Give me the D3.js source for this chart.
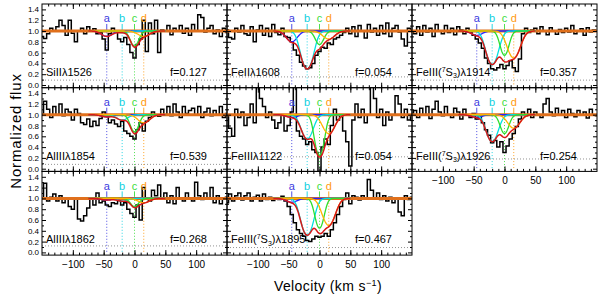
<!DOCTYPE html>
<html>
<head>
<meta charset="utf-8">
<script src="https://cdn.jsdelivr.net/npm/d3@7"></script>
<style>
body { margin: 0; background: #fff; }
svg { display: block; font-family: "Liberation Sans", Arial, sans-serif; }
</style>
</head>
<body>
<svg id="chart" width="600" height="298"></svg>
<script>

// velocity grid of the spectra (km/s)
const velocity = [-150,-145,-140,-135,-130,-125,-120,-115,-110,-105,-100,-95,-90,-85,-80,-75,-70,-65,-60,-55,
  -50,-45,-40,-35,-30,-25,-20,-15,-10,-5,0,5,10,15,20,25,30,35,40,45,50,55,60,65,70,75,80,85,90,95,
  100,105,110,115,120,125,130,135,140,145,150];

// normalized flux, one array per transition
const siII1526 = [0.9,0.86,0.95,1.05,1.0,1.08,1.2,1.1,0.92,1.2, 0.96,0.8,1.0,1.05,0.95,1.08,1.0,1.04,0.95,0.97,
  0.85,0.65,0.95,1.05,0.98,0.85,0.8,0.88,0.75,0.6, 0.5,0.75,0.85,1.2,0.62,1.15,0.95,1.2,0.6,1.02,
  1.0,1.1,0.93,1.05,1.0,1.1,0.96,1.05,0.92,1.12, 1.0,1.3,1.25,0.98,1.05,1.1,0.95,1.02,0.9,1.05, 0.97];
const feII1608 = [1.02,0.88,0.85,1.05,0.98,1.1,0.95,0.92,1.08,0.8, 1.02,1.1,0.92,1.05,0.9,1.12,0.97,0.93,1.05,0.9,
  0.88,0.8,0.65,0.55,0.42,0.35,0.3,0.32,0.4,0.55, 0.62,0.7,0.68,0.78,0.75,0.85,0.88,0.92,0.97,1.05,
  0.95,1.08,0.9,1.1,1.0,0.87,1.12,0.98,1.05,0.92, 1.1,0.95,1.15,0.9,1.05,1.1,0.98,0.85,0.72,1.05, 1.0];
const feIIIs1914 = [1.0,0.95,1.08,0.92,1.1,0.98,1.05,0.9,1.12,1.0, 0.95,1.1,0.97,1.05,0.93,1.08,1.02,0.95,1.05,0.98,
  0.92,0.85,0.78,0.68,0.5,0.4,0.3,0.28,0.32,0.38, 0.3,0.36,0.45,0.32,0.25,0.48,0.95,1.05,0.97,1.02,
  1.05,0.95,1.08,1.0,0.93,1.06,1.0,0.94,1.03,0.97, 1.05,0.98,1.1,0.95,1.0,1.04,0.92,1.06,0.98,1.02, 1.0];
const alIII1854 = [1.0,1.25,1.1,0.95,1.15,1.0,1.2,0.98,1.1,1.05, 0.9,1.1,1.02,0.85,0.82,0.92,0.78,0.88,0.8,0.93,
  1.05,0.98,0.85,0.9,0.83,0.78,0.88,0.7,0.65,0.6, 0.55,0.72,0.85,0.7,0.88,0.95,1.05,1.0,0.97,1.1,
  1.0,1.15,0.98,1.2,1.05,0.95,1.15,1.02,1.08,1.12, 1.0,1.15,0.95,1.05,1.12,0.98,1.08,1.0,1.15,0.95, 1.02];
const feIII1122 = [1.0,0.75,0.6,1.1,0.95,1.05,0.8,0.95,1.2,0.85, 1.6,1.3,1.15,0.95,1.05,0.9,0.75,0.85,1.0,0.7,
  0.8,1.05,1.6,0.7,0.6,0.55,0.45,0.5,0.35,0.3, -0.05,0.4,0.55,0.45,0.8,1.1,0.9,1.0,0.7,0.5,
  0.05,0.9,1.2,0.95,1.1,0.85,1.0,1.6,1.3,0.95, 1.1,0.8,1.05,0.9,1.0,1.35,1.2,0.95,1.1,0.9, 1.0];
const feIIIs1926 = [1.02,1.08,0.95,1.12,1.0,1.15,0.93,1.1,1.25,1.05, 0.98,1.15,1.0,0.95,1.12,1.05,0.92,1.1,1.0,0.95,
  1.02,0.92,0.98,0.85,0.72,0.62,0.48,0.52,0.4,0.5, 0.3,0.42,0.55,0.65,0.78,0.92,1.05,0.98,1.1,0.95,
  1.05,1.0,0.95,1.2,1.3,1.05,0.98,1.12,1.0,1.08, 0.95,1.1,1.02,0.96,1.08,1.0,1.05,0.94,1.1,1.0, 0.98];
const alIII1862 = [1.0,1.28,0.95,1.02,1.08,0.95,1.05,0.92,1.0,0.85, 0.8,1.0,0.62,0.58,0.68,0.82,1.0,0.88,1.1,0.92,
  0.95,0.88,0.85,0.92,0.9,0.96,0.88,0.92,0.8,0.72, 0.65,0.88,0.6,1.2,1.0,0.95,1.15,1.05,1.25,1.0,
  1.1,0.92,1.05,0.9,1.2,1.0,0.95,1.1,1.0,0.95, 1.3,1.05,0.98,1.1,1.0,1.2,0.92,1.05,0.9,1.0, 1.02];
const feIIIs1895 = [0.92,1.08,0.95,1.05,1.1,0.97,1.05,1.1,0.95,1.02, 1.06,0.95,1.08,0.98,1.02,0.96,1.0,0.98,1.04,0.95,
  0.85,0.7,0.55,0.42,0.35,0.3,0.22,0.2,0.25,0.3, 0.28,0.3,0.35,0.3,0.42,0.55,0.7,0.85,0.98,1.1,
  0.9,1.05,1.02,0.97,1.05,1.0,1.35,1.15,1.0,1.1, 0.98,1.05,0.95,1.02,0.92,1.0,0.75,0.68,1.05,0.98, 1.02];

const spectra = [siII1526, feII1608, feIIIs1914, alIII1854, feIII1122, feIIIs1926, alIII1862, feIIIs1895];
const ions = ["SiII", "FeII", "FeIII", "AlIII", "FeIII", "FeIII", "AlIII", "FeIII"];
const levels = [null, null, ["7", "S", "3"], null, null, ["7", "S", "3"], null, ["7", "S", "3"]];
const waves = ["1526", "1608", "1914", "1854", "1122", "1926", "1862", "1895"];
const fValues = ["0.127", "0.054", "0.357", "0.539", "0.054", "0.254", "0.268", "0.467"];
const residLevel = [0.09, 0.15, 0.09, 0.08, 0.22, 0.18, 0.12, 0.09];

// fitted components a-d: velocity, width, and minimum transmission per panel
const compNames = ["a", "b", "c", "d"];
const compVel = [-45, -20, 0, 15];
const compWidth = [12, 12, 9, 13];
const compMin = [
  [0.9, 0.97, 0.72, 0.9],
  [0.8, 0.3, 0.75, 0.85],
  [0.92, 0.38, 0.55, 0.5],
  [0.96, 0.9, 0.68, 0.85],
  [0.95, 0.55, 0.25, 0.65],
  [0.95, 0.5, 0.65, 0.75],
  [0.97, 0.95, 0.85, 0.92],
  [0.93, 0.32, 0.45, 0.5]
];

const xTicks = [-100, -50, 0, 50, 100];
const yTicks = [0.0, 0.2, 0.4, 0.6, 0.8, 1.0, 1.2, 1.4];

const cols = [0, 1, 2, 0, 1, 2, 0, 1];
const rows = [0, 0, 0, 1, 1, 1, 2, 2];
const xLabelPanels = [5, 6, 7];

const compColor = ["#2626ff", "#00e0e0", "#2ede2e", "#ffb400"];
const labelColor = ["#3a3ae0", "#10d0e0", "#3cdc3c", "#ff9a10"];

const marginLeft = 42, marginTop = 4, pw = 185, ph = 83.7;
const svg = d3.select("#chart");

const x = d3.scaleLinear().domain([-150, 150]).range([0, pw]);
const y = d3.scaleLinear().domain([-0.05, 1.5]).range([ph, 0]);

const dataLine = d3.line().curve(d3.curveStep).x(d => x(d[0])).y(d => y(d[1]));
const modelLine = d3.line().x(d => x(d[0])).y(d => y(d[1]));
const modelGrid = d3.range(-75, 50.5, 1);

const tau = (k, p, v) => -Math.log(compMin[p][k]) * Math.exp(-Math.pow((v - compVel[k]) / compWidth[k], 2));

spectra.forEach((flux, i) => {
  const g = svg.append("g")
    .attr("transform", `translate(${marginLeft + cols[i] * pw},${marginTop + rows[i] * ph})`);

  g.append("clipPath").attr("id", "clip" + i)
    .append("rect").attr("width", pw).attr("height", ph);
  const inner = g.append("g").attr("clip-path", `url(#clip${i})`);

  // residual level
  inner.append("line")
    .attr("x1", 0).attr("x2", pw)
    .attr("y1", y(residLevel[i])).attr("y2", y(residLevel[i]))
    .attr("stroke", "#777").attr("stroke-width", 0.8).attr("stroke-dasharray", "1,2");

  // component markers
  compNames.forEach((c, k) => {
    inner.append("line")
      .attr("x1", x(compVel[k])).attr("x2", x(compVel[k]))
      .attr("y1", y(1.03)).attr("y2", y(0.0))
      .attr("stroke", labelColor[k]).attr("stroke-width", 0.9).attr("stroke-dasharray", "1,2");
    inner.append("line")
      .attr("x1", x(compVel[k])).attr("x2", x(compVel[k]))
      .attr("y1", y(1.13)).attr("y2", y(1.03))
      .attr("stroke", labelColor[k]).attr("stroke-width", 0.9);
    g.append("text")
      .attr("x", x(compVel[k])).attr("y", y(1.16))
      .attr("text-anchor", "middle").attr("font-size", 11)
      .attr("fill", labelColor[k]).text(c);
  });

  // data
  inner.append("path")
    .datum(velocity.map((v, j) => [v, flux[j]]))
    .attr("d", dataLine)
    .attr("fill", "none").attr("stroke", "#000").attr("stroke-width", 1.5);

  // continuum
  inner.append("line")
    .attr("x1", 0).attr("x2", pw).attr("y1", y(1)).attr("y2", y(1))
    .attr("stroke", "#e0701c").attr("stroke-width", 3);

  // components
  compNames.forEach((c, k) => {
    inner.append("path")
      .datum(modelGrid.map(v => [v, Math.exp(-tau(k, i, v))]))
      .attr("d", modelLine)
      .attr("fill", "none").attr("stroke", compColor[k]).attr("stroke-width", 1.3);
  });

  // total fit
  inner.append("path")
    .datum(modelGrid.map(v => [v, Math.exp(-d3.sum(compNames, (c, k) => tau(k, i, v)))]))
    .attr("d", modelLine)
    .attr("fill", "none").attr("stroke", "#d81818").attr("stroke-width", 1.5);

  // axes, ticks pointing inwards
  const showX = xLabelPanels.includes(i);
  const showY = cols[i] === 0;
  const clean = a => { a.select(".domain").remove(); a.attr("font-family", null); };

  g.append("g").attr("transform", `translate(0,${ph})`)
    .call(d3.axisBottom(x).tickValues(xTicks).tickSize(-5).tickSizeOuter(0).tickPadding(6)
      .tickFormat(showX ? d3.format("d") : ""))
    .call(clean).attr("font-size", 10);
  g.append("g").attr("transform", `translate(0,${ph})`)
    .call(d3.axisBottom(x).tickValues(d3.range(-140, 141, 10)).tickSize(-2.5).tickSizeOuter(0).tickFormat(""))
    .call(clean);
  g.append("g")
    .call(d3.axisTop(x).tickValues(xTicks).tickSize(-5).tickSizeOuter(0).tickFormat(""))
    .call(clean);
  g.append("g")
    .call(d3.axisTop(x).tickValues(d3.range(-140, 141, 10)).tickSize(-2.5).tickSizeOuter(0).tickFormat(""))
    .call(clean);
  g.append("g")
    .call(d3.axisLeft(y).tickValues(yTicks).tickSize(-4).tickSizeOuter(0).tickPadding(3)
      .tickFormat(showY ? d3.format(".1f") : ""))
    .call(clean).attr("font-size", 8);
  g.append("g")
    .call(d3.axisLeft(y).tickValues(d3.range(0.1, 1.5, 0.2)).tickSize(-2).tickSizeOuter(0).tickFormat(""))
    .call(clean);
  g.append("g").attr("transform", `translate(${pw},0)`)
    .call(d3.axisRight(y).tickValues(yTicks).tickSize(-4).tickSizeOuter(0).tickFormat(""))
    .call(clean);
  g.append("g").attr("transform", `translate(${pw},0)`)
    .call(d3.axisRight(y).tickValues(d3.range(0.1, 1.5, 0.2)).tickSize(-2).tickSizeOuter(0).tickFormat(""))
    .call(clean);

  g.append("rect").attr("width", pw).attr("height", ph)
    .attr("fill", "none").attr("stroke", "#000").attr("stroke-width", 1);

  // transition label
  const t = g.append("text").attr("x", 4).attr("y", y(0.17)).attr("font-size", 11);
  t.append("tspan").text(ions[i]);
  if (levels[i]) {
    t.append("tspan").text("(");
    t.append("tspan").attr("dy", -4).attr("font-size", 7).text(levels[i][0]);
    t.append("tspan").attr("dy", 4).text(levels[i][1]);
    t.append("tspan").attr("dy", 2.5).attr("font-size", 7).text(levels[i][2]);
    t.append("tspan").attr("dy", -2.5).text(")");
  }
  t.append("tspan").text("λ" + waves[i]);

  g.append("text").attr("x", pw - 20).attr("y", y(0.17))
    .attr("text-anchor", "end").attr("font-size", 11)
    .text("f=" + fValues[i]);
});

// axis titles
svg.append("text")
  .attr("transform", "translate(21,131) rotate(-90)")
  .attr("text-anchor", "middle").attr("font-size", 15).attr("letter-spacing", 0.8)
  .text("Normalized flux");

const xt = svg.append("text")
  .attr("x", 328).attr("y", 291)
  .attr("text-anchor", "middle").attr("font-size", 14).attr("letter-spacing", 0.4);
xt.append("tspan").text("Velocity (km s");
xt.append("tspan").attr("dy", -5).attr("font-size", 9).text("−1");
xt.append("tspan").attr("dy", 5).text(")");
</script>
</body>
</html>
